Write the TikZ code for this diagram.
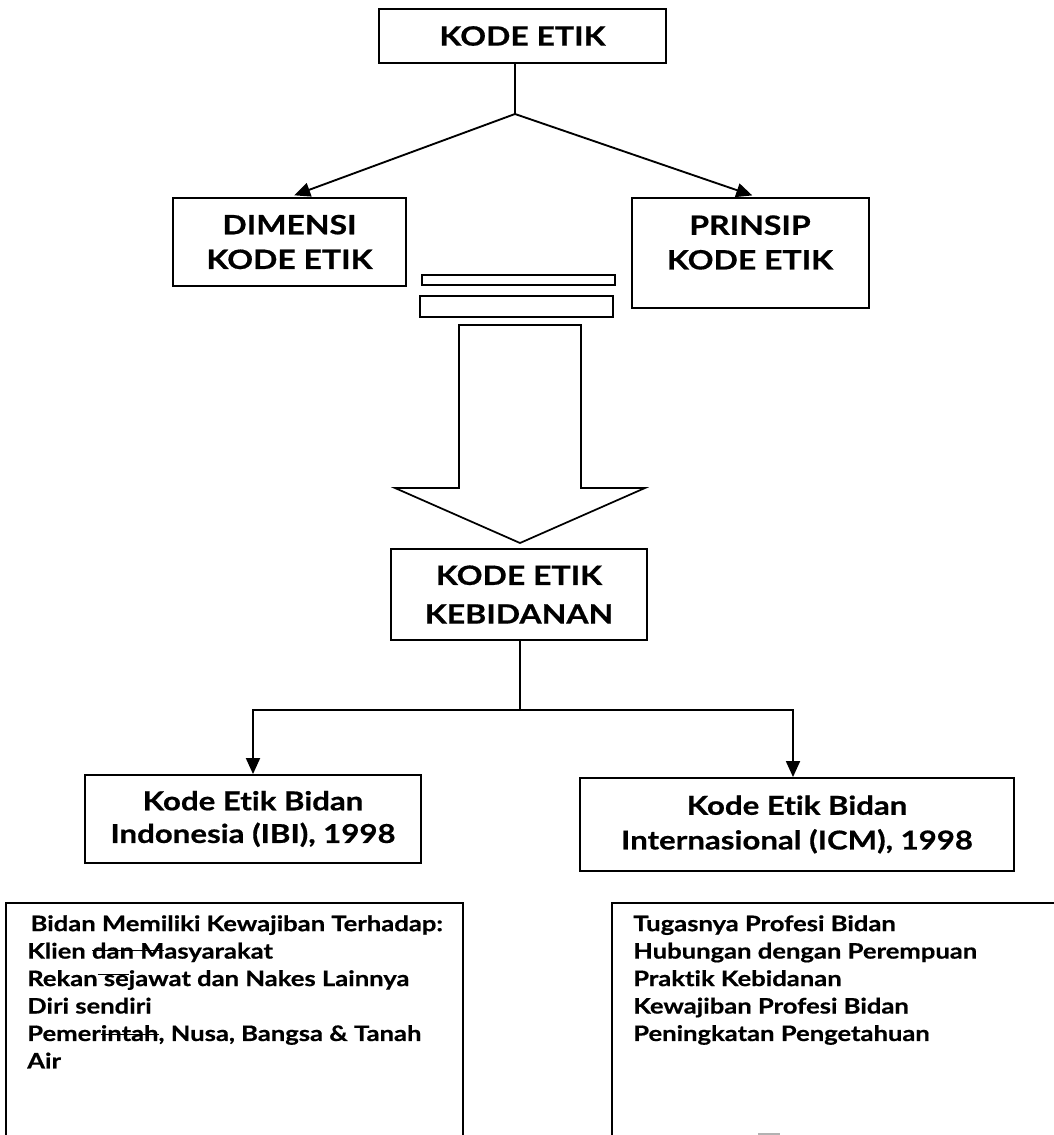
\documentclass[tikz,border=0pt]{standalone}
\usepackage{fontspec}
\setmainfont{Lato}[FakeStretch=1.2, Ligatures=NoCommon, BoldFeatures={FakeBold=0.6}]
\usetikzlibrary{arrows.meta}
\newsavebox\stbox
\newcommand\mystrike[2][0.35em]{\sbox\stbox{#2}\rlap{\rule[#1]{\wd\stbox}{0.7pt}}\usebox\stbox}
\begin{document}
\begin{tikzpicture}[x=0.75pt,y=-0.75pt,
  every node/.style={inner sep=0pt},
  box/.style={draw, line width=1.4pt, rectangle},
  head/.style={font=\fontsize{20}{26}\selectfont\bfseries, align=center},
  sub/.style={font=\fontsize{19.5}{24.5}\selectfont\bfseries, align=center},
  list/.style={font=\fontsize{16}{20.6}\selectfont\bfseries, align=left, anchor=north west},
  conn/.style={line width=1.4pt},
  arr/.style={conn, -{Triangle[length=12pt,width=10.5pt]}}]
\useasboundingbox (0,0) rectangle (1053,1135);
% boxes
\node[box, head, minimum width=215.25pt, minimum height=40.5pt] (top) at (522.5,36) {KODE ETIK};
\node[box, head, minimum width=174.75pt, minimum height=66pt] (dim) at (289.5,242) {DIMENSI\\KODE ETIK};
\node[box, minimum width=177.75pt, minimum height=82.5pt] (prin) at (750.5,253) {};
\node[head] (printext) at (750,242.5) {PRINSIP\\KODE ETIK};
\node[box, minimum width=144.75pt, minimum height=7.5pt, line width=1.1pt] (bar1) at (518.5,280) {};
\node[box, minimum width=144.75pt, minimum height=15.75pt, line width=1.1pt] (bar2) at (516.5,306.5) {};
% big hollow arrow
\draw[line width=1.3pt, line join=miter] (459,325) -- (459,488) -- (395,488) -- (520,543) -- (645,488) -- (581,488) -- (581,325) -- cycle;
\node[box, font=\fontsize{20}{29}\selectfont\bfseries, align=center, minimum width=192pt, minimum height=68.25pt] (keb) at (519,594.5) {KODE ETIK\\KEBIDANAN};
\node[box, sub, minimum width=252pt, minimum height=66pt] (ibi) at (253,819) {Kode Etik Bidan\\Indonesia (IBI), 1998};
\node[box, font=\fontsize{19.5}{26}\selectfont\bfseries, align=center, minimum width=325.5pt, minimum height=69.75pt] (icm) at (797,824.5) {Kode Etik Bidan\\Internasional (ICM), 1998};
% connectors top
\coordinate (j1) at (515,114);
\draw[conn] (j1 |- top.south) -- (j1);
\draw[arr, shorten >=3.75pt] (j1) -- (dim.north);
\draw[arr, shorten >=3.75pt] (j1) -- ([xshift=4.9pt]prin.north);
% connectors bottom
\coordinate (j2) at (520,710);
\draw[conn] (j2 |- keb.south) -- (j2);
\draw[arr] (j2) -| (ibi.north);
\draw[arr] (j2) -| ([xshift=-3pt]icm.north);
% lower boxes
\draw[line width=1.4pt] (6,1136) -- (6,903) -- (463,903) -- (463,1136);
\draw[line width=1.4pt] (612,1136) -- (612,903) -- (1056,903);
\node[list] (ltext) at (27,915) {\hspace{2.5pt}Bidan Memiliki Kewajiban Terhadap:\\
Klien \mystrike{dan M}asyarakat\\
Rekan\mystrike[0.5em]{ se}jawat dan Nakes Lainnya\\
Diri sendiri\\
Pemer\mystrike[0.3em]{intah}, Nusa, Bangsa \& Tanah\\
Air};
\node[list] (rtext) at (633,915) {Tugasnya Profesi Bidan\\
Hubungan dengan Perempuan\\
Praktik Kebidanan\\
Kewajiban Profesi Bidan\\
Peningkatan Pengetahuan};
\draw[gray!60, line width=1pt] (758,1134) -- (780,1134);
\end{tikzpicture}
\end{document}
